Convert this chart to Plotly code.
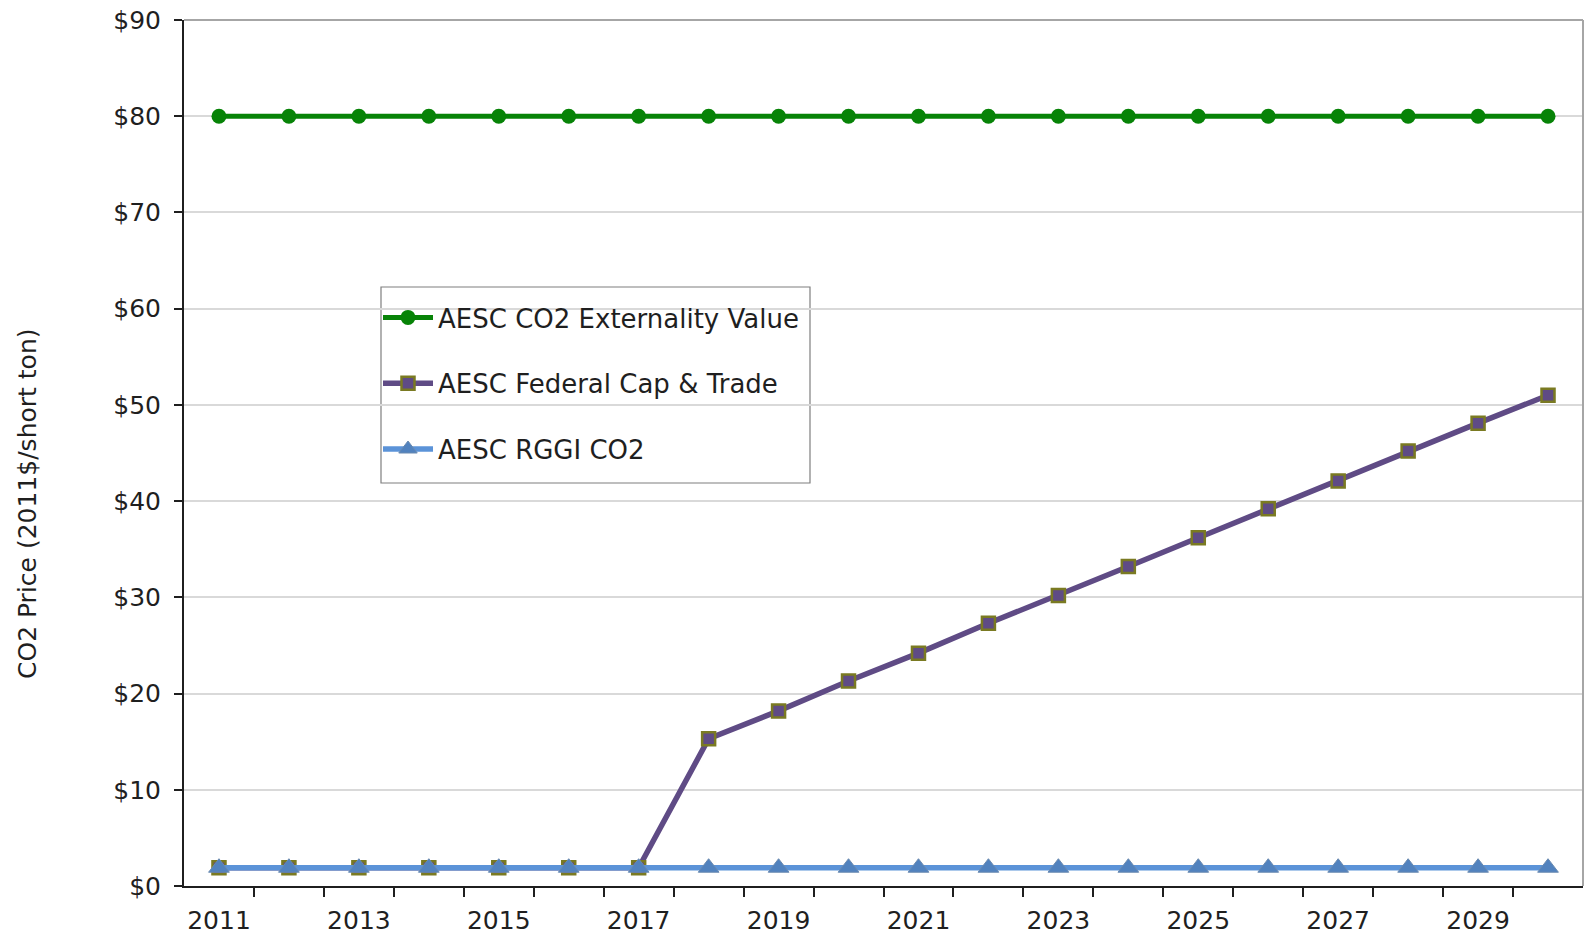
import plotly.graph_objects as go

years = list(range(2011, 2031))
externality = [80] * 20
federal = [1.9, 1.9, 1.9, 1.9, 1.9, 1.9, 1.9, 15.3, 18.2, 21.3, 24.2, 27.3, 30.2, 33.2, 36.2, 39.2, 42.1, 45.2, 48.1, 51.0]
rggi = [1.9] * 20
tick_labels = [str(y) if y % 2 == 1 else "" for y in years]
y_ticks = list(range(0, 100, 10))
y_labels = [f"${v}" for v in y_ticks]

FONT = "DejaVu Sans, Verdana, sans-serif"
TXT = "#1F1F1F"

W, H = 1584, 937
L, R, T, B = 184, 1583, 20, 886
PW, PH = R - L, B - T


def px(x):
    return (x - L) / PW


def py(y):
    return (B - y) / PH


fig = go.Figure()
fig.add_trace(go.Scatter(
    x=years, y=externality, name="AESC CO2 Externality Value", mode="lines+markers",
    line=dict(color="#078307", width=5),
    marker=dict(symbol="circle", size=15, color="#078307"),
    legendgroup="a"))
fig.add_trace(go.Scatter(
    x=years, y=federal, name="AESC Federal Cap & Trade", mode="lines+markers",
    line=dict(color="#5F4B85", width=5.5),
    marker=dict(symbol="square", size=13, color="#5F4B85", line=dict(color="#7A7A22", width=2.5)),
    legendgroup="b"))
fig.add_trace(go.Scatter(
    x=years, y=rggi, name="AESC RGGI CO2", mode="lines+markers",
    line=dict(color="#5B93D8", width=5.5),
    marker=dict(symbol="triangle-up", size=18, color="#5182BE", line=dict(color="#6A8AB0", width=1)),
    legendgroup="c"))

fig.update_layout(
    width=W, height=H, autosize=False,
    margin=dict(l=L, r=W - R, t=T, b=H - B),
    paper_bgcolor="white", plot_bgcolor="white",
    font=dict(family=FONT, size=25, color=TXT),
    showlegend=True,
    legend=dict(
        x=px(378), y=py(294), xanchor="left", yanchor="top",
        borderwidth=0, bgcolor="rgba(0,0,0,0)",
        font=dict(family=FONT, size=26, color=TXT),
        traceorder="grouped", tracegroupgap=29, itemwidth=50,
    ),
    xaxis=dict(
        automargin=False,
        range=[2010.5, 2030.5], tickmode="array", tickvals=years, ticktext=tick_labels,
        ticks="", showgrid=False, zeroline=False,
        showline=True, linecolor=TXT, linewidth=2,
        tickfont=dict(family=FONT, size=25, color=TXT), ticklabelstandoff=11,
        minor=dict(tickmode="array", tickvals=[y + 0.5 for y in years[:-1]],
                   ticks="outside", ticklen=9, tickwidth=2, tickcolor=TXT, showgrid=False),
    ),
    yaxis=dict(
        automargin=False,
        range=[0, 90], tickmode="array", tickvals=y_ticks, ticktext=y_labels,
        ticks="outside", ticklen=8, tickwidth=2, tickcolor=TXT,
        showgrid=True, gridcolor="#D9D9D9", gridwidth=2, zeroline=False,
        showline=True, linecolor=TXT, linewidth=2,
        tickfont=dict(family=FONT, size=25, color=TXT), ticklabelstandoff=8,
    ),
    annotations=[dict(
        text="CO2 Price (2011$/short ton)", textangle=-90,
        xref="paper", yref="paper", x=px(27), y=py(504),
        xanchor="center", yanchor="middle", showarrow=False,
        font=dict(family=FONT, size=25, color=TXT),
    )],
    shapes=[
        dict(type="line", xref="paper", yref="paper", x0=0, x1=1, y0=1, y1=1,
             line=dict(color="#A6A6A6", width=2)),
        dict(type="line", xref="paper", yref="paper", x0=1, x1=1, y0=0, y1=1,
             line=dict(color="#A6A6A6", width=2)),
        dict(type="rect", xref="paper", yref="paper", x0=px(381), x1=px(810), y0=py(483), y1=py(287),
             line=dict(color="#7F7F7F", width=1.2), fillcolor="white", layer="below"),
    ],
)

post = (
    "document.documentElement.style.margin='0';"
    "document.body.style.margin='0';"
    "document.body.style.overflow='hidden';"
    "var gd=document.getElementById('{plot_id}');"
    "Plotly.relayout(gd,{width:%d,height:%d});" % (W, H)
)

fig.write_html("out.html", config={"responsive": False, "displayModeBar": False}, post_script=post)
